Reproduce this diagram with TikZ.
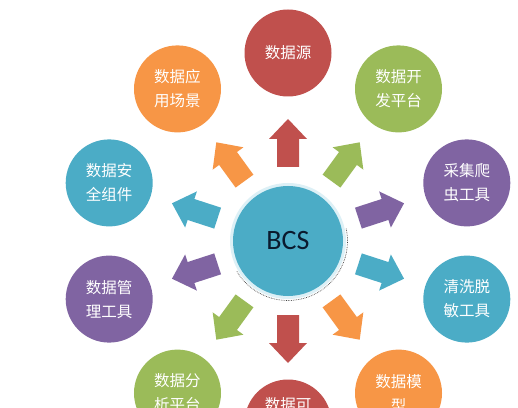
\documentclass[tikz,border=0pt]{standalone}
\usepackage{fontspec}
\usetikzlibrary{calc}
\newfontfamily\cjk{Noto Sans CJK SC}
\newfontfamily\carl{Carlito}
\definecolor{cred}{HTML}{C0504D}
\definecolor{cgreen}{HTML}{9BBB59}
\definecolor{cpurple}{HTML}{8064A2}
\definecolor{cteal}{HTML}{4BACC6}
\definecolor{corange}{HTML}{F79646}
\definecolor{cring}{HTML}{DDF0F6}
\definecolor{cbcs}{HTML}{0A1A2E}
\tikzset{
  outer/.style={circle, minimum size=87pt, inner sep=0pt, text=white, align=center,
    font=\cjk\fontsize{15.5}{24}\selectfont},
  blockarrow/.style={draw=none}
}
\begin{document}
\begin{tikzpicture}[x=1pt,y=1pt]
\useasboundingbox (0,0) rectangle (518,407);
\clip (0,0) rectangle (518,407);
\fill[white] (0,0) rectangle (518,407);
% center
\coordinate (c) at (288,166);
\draw[densely dotted, black!75, line width=0.7pt] (c) ++(12:59.5) arc[start angle=12, end angle=-150, radius=59.5];
\fill[cring] (c) circle[radius=58];
\node[circle, fill=cteal, minimum size=110pt, inner sep=0pt, font=\carl\fontsize{28}{30}\selectfont, text=cbcs] (bcs) at (c) {BCS};
% outer circles
\node[outer, fill=cred]    (n90)  at ($(c)+(90:188)$)   {数据源};
\node[outer, fill=cgreen]  (n54)  at ($(c)+(54:188)$)   {数据开\\发平台};
\node[outer, fill=cpurple] (n18)  at ($(c)+(18:188)$)   {采集爬\\虫工具};
\node[outer, fill=cteal]   (nm18) at ($(c)+(-18:188)$)  {清洗脱\\敏工具};
\node[outer, fill=corange] (nm54) at ($(c)+(-54:188)$)  {数据模\\型};
\node[outer, fill=cred]    (nm90) at ($(c)+(-90:188)+(0,6)$) {};
\node[text=white, font=\cjk\fontsize{15.5}{24}\selectfont] (nm90t) at (288,2) {数据可};
\node[outer, fill=cgreen]  (n234) at ($(c)+(234:188)$)  {数据分\\析平台};
\node[outer, fill=cpurple] (n198) at ($(c)+(198:188)$)  {数据管\\理工具};
\node[outer, fill=cteal]   (n162) at ($(c)+(162:188)$)  {数据安\\全组件};
\node[outer, fill=corange] (n126) at ($(c)+(126:188)$)  {数据应\\用场景};
% block arrows
\foreach \a/\col in {90/cred, 54/cgreen, 18/cpurple, -18/cteal, -54/corange, -90/cred, -126/cgreen, -162/cpurple, 162/cteal, 126/corange}{
  \begin{scope}[shift={(bcs.center)}, rotate=\a]
    \fill[\col] (74,-11) -- (102,-11) -- (102,-19) -- (122,0) -- (102,19) -- (102,11) -- (74,11) -- cycle;
  \end{scope}
}
\end{tikzpicture}
\end{document}
